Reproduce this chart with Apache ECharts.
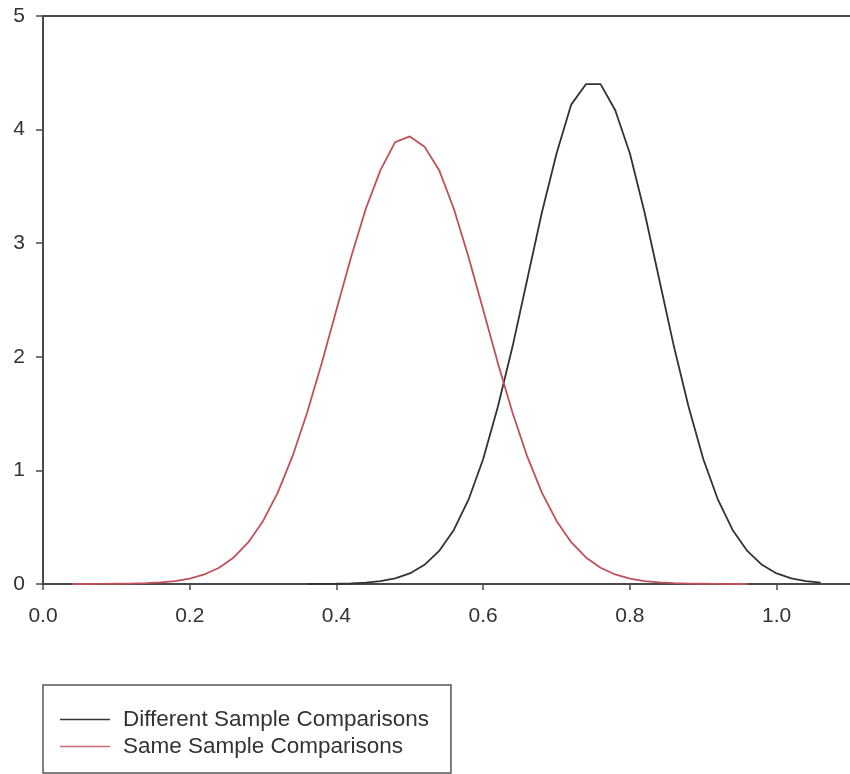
<!DOCTYPE html>
<html>
<head>
<meta charset="utf-8">
<script src="https://cdn.jsdelivr.net/npm/echarts@6/dist/echarts.min.js"></script>
<style>html,body{margin:0;padding:0;background:#fff}#chart{width:850px;height:774px}</style>
</head>
<body>
<div id="chart"></div>
<script>
// Series names
const seriesNames = ['Different Sample Comparisons', 'Same Sample Comparisons'];

// Different Sample Comparisons (black)
const diffX = [0.36,0.38,0.40,0.42,0.44,0.46,0.48,0.50,0.52,0.54,0.56,0.58,0.60,0.62,0.64,0.66,0.68,0.70,0.72,0.74,0.76,0.78,0.80,0.82,0.84,0.86,0.88,0.90,0.92,0.94,0.96,0.98,1.00,1.02,1.04,1.06];
const diffY = [0.001,0.001,0.002,0.005,0.012,0.025,0.049,0.093,0.169,0.291,0.476,0.742,1.10,1.56,2.09,2.68,3.27,3.79,4.22,4.40,4.40,4.17,3.79,3.27,2.68,2.09,1.56,1.10,0.742,0.476,0.291,0.169,0.093,0.049,0.025,0.012];

// Same Sample Comparisons (red)
const sameX = [0.04,0.06,0.08,0.10,0.12,0.14,0.16,0.18,0.20,0.22,0.24,0.26,0.28,0.30,0.32,0.34,0.36,0.38,0.40,0.42,0.44,0.46,0.48,0.50,0.52,0.54,0.56,0.58,0.60,0.62,0.64,0.66,0.68,0.70,0.72,0.74,0.76,0.78,0.80,0.82,0.84,0.86,0.88,0.90,0.92,0.94,0.96];
const sameY = [0.000,0.000,0.001,0.002,0.003,0.007,0.014,0.026,0.048,0.084,0.143,0.234,0.368,0.555,0.805,1.123,1.507,1.945,2.414,2.879,3.303,3.643,3.89,3.94,3.85,3.643,3.303,2.879,2.414,1.945,1.507,1.123,0.805,0.555,0.368,0.234,0.143,0.084,0.048,0.026,0.014,0.007,0.003,0.002,0.001,0.000,0.000];

// Axis ticks
const xTicks = [0.0,0.2,0.4,0.6,0.8,1.0];
const yTicks = [0,1,2,3,4,5];

const pairs = (xs, ys) => xs.map((x, i) => [x, ys[i]]);

const chart = echarts.init(document.getElementById('chart'), null, {renderer: 'canvas'});
const axisColor = '#4a4a4a';
const font = 'Liberation Sans, Arial, sans-serif';
chart.setOption({
  animation: false,
  backgroundColor: '#ffffff',
  grid: {left: 43, top: 16, width: 811, height: 568},
  xAxis: [{
    type: 'value', min: 0, max: 1.1, interval: 0.2,
    axisLine: {show: true, onZero: false, lineStyle: {color: axisColor, width: 2}},
    axisTick: {show: true, length: 6, lineStyle: {color: axisColor, width: 1.5}},
    axisLabel: {
      margin: 22, fontSize: 21, color: '#333', fontFamily: font, showMaxLabel: false,
      formatter: v => xTicks.some(t => Math.abs(t - v) < 1e-6) ? v.toFixed(1) : ''
    },
    splitLine: {show: false}
  }, {
    type: 'value', position: 'top', min: 0, max: 1.1, interval: 0.2,
    axisLine: {show: true, onZero: false, lineStyle: {color: axisColor, width: 2}},
    axisTick: {show: false}, axisLabel: {show: false}, splitLine: {show: false}
  }],
  yAxis: {
    type: 'value', min: 0, max: 5, interval: 1,
    axisLine: {show: true, lineStyle: {color: axisColor, width: 2}},
    axisTick: {show: true, length: 7, lineStyle: {color: axisColor, width: 1.5}},
    axisLabel: {
      margin: 18, fontSize: 21, color: '#333', fontFamily: font,
      formatter: v => yTicks.includes(v) ? String(v) : ''
    },
    splitLine: {show: false}
  },
  legend: {
    orient: 'vertical', left: 43, top: 685, height: 88,
    backgroundColor: '#fff', borderColor: '#555', borderWidth: 1.5,
    padding: [23, 22, 15, 17], itemGap: 4, itemWidth: 50, itemHeight: 14,
    icon: 'path://M0,7L50,7L50,8.5L0,8.5Z',
    textStyle: {fontSize: 22.5, color: '#333', fontFamily: font, padding: [0, 0, 0, 8]},
    data: seriesNames
  },
  series: [
    {
      name: seriesNames[0], type: 'line', data: pairs(diffX, diffY), xAxisIndex: 0,
      showSymbol: false, symbol: 'none', smooth: false,
      lineStyle: {color: '#333333', width: 1.8}, itemStyle: {color: '#333333'}
    },
    {
      name: seriesNames[1], type: 'line', data: pairs(sameX, sameY), xAxisIndex: 0,
      showSymbol: false, symbol: 'none', smooth: false,
      lineStyle: {color: '#c0505a', width: 1.8}, itemStyle: {color: '#d06a70'}
    }
  ]
});
</script>
</body>
</html>
